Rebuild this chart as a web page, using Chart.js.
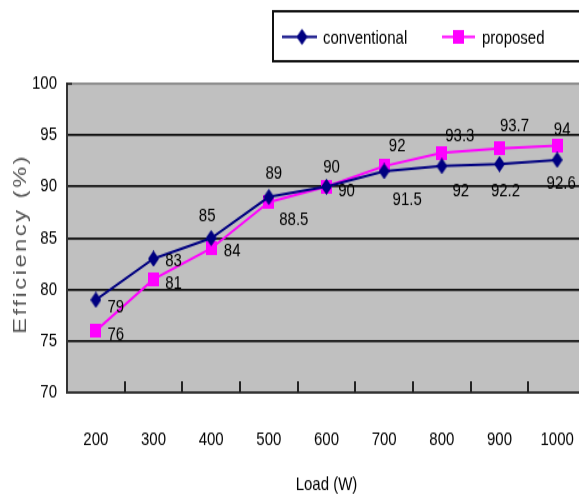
<!DOCTYPE html>
<html>
<head>
<meta charset="utf-8">
<script src="https://cdn.jsdelivr.net/npm/chart.js@4/dist/chart.umd.min.js"></script>
<style>
  html, body { margin: 0; padding: 0; background: #fff; overflow: hidden; }
  #wrap { width: 600px; height: 500px; }
  /* the original picture is stretched vertically, so draw at 400 high and stretch to 500 */
  #myChart { width: 600px !important; height: 500px !important; display: block; }
</style>
</head>
<body>
<div id="wrap"><canvas id="myChart" width="600" height="400"></canvas></div>
<script>
// chart data
const loads = ['200', '300', '400', '500', '600', '700', '800', '900', '1000'];
const conventional = [79, 83, 85, 89, 90, 91.5, 92, 92.2, 92.6];
const proposed = [76, 81, 84, 88.5, 90, 92, 93.3, 93.7, 94];
const yTicks = [70, 75, 80, 85, 90, 95, 100];

// where each value label sits relative to its point (dx, dy)
const convLabelPos = [[20, 6], [20, 2], [-4, -18], [5, -19], [20, 4], [23, 23], [19, 20], [6, 22], [4, 19]];
const propLabelPos = [[20, 3], [20, 3], [21, 2], [25, 14], [5, -15], [13, -16], [18, -13], [15, -18], [5, -13]];

const FONT = '"Liberation Sans", Arial, sans-serif';
const NAVY = '#000080';
const MAGENTA = '#FF00FF';

function makeDiamond() {
  const c = document.createElement('canvas');
  c.width = 11; c.height = 13;
  const g = c.getContext('2d');
  g.fillStyle = NAVY;
  g.beginPath();
  g.moveTo(5.5, 0); g.lineTo(11, 6.5); g.lineTo(5.5, 13); g.lineTo(0, 6.5);
  g.closePath(); g.fill();
  return c;
}
function makeSquare() {
  const c = document.createElement('canvas');
  c.width = 11; c.height = 11;
  const g = c.getContext('2d');
  g.fillStyle = MAGENTA;
  g.fillRect(0, 0, 11, 11);
  return c;
}
const diamond = makeDiamond();
const square = makeSquare();

const plotBackground = {
  id: 'plotBackground',
  beforeDraw(chart) {
    const {ctx, chartArea: a} = chart;
    ctx.save();
    ctx.fillStyle = '#C0C0C0';
    ctx.fillRect(a.left, a.top, a.right - a.left, a.bottom - a.top);
    ctx.restore();
  }
};

// small tick marks pointing up into the plot, between categories
const innerTicks = {
  id: 'innerTicks',
  beforeDatasetsDraw(chart) {
    const {ctx, chartArea: a, scales: {x, y}} = chart;
    ctx.save();
    ctx.strokeStyle = '#222';
    ctx.lineWidth = 2;
    for (let i = 0; i < loads.length - 1; i++) {
      const px = Math.round((x.getPixelForValue(i) + x.getPixelForValue(i + 1)) / 2);
      ctx.beginPath();
      ctx.moveTo(px, a.bottom);
      ctx.lineTo(px, a.bottom - 9);
      ctx.stroke();
    }
    const py = y.getPixelForValue(100);
    ctx.lineWidth = 1.6;
    ctx.beginPath();
    ctx.moveTo(a.left, py);
    ctx.lineTo(a.left + 5, py);
    ctx.stroke();
    ctx.restore();
  }
};

const valueLabels = {
  id: 'valueLabels',
  afterDatasetsDraw(chart) {
    const {ctx} = chart;
    const placement = [convLabelPos, propLabelPos];
    ctx.save();
    ctx.font = '15px ' + FONT;
    ctx.fillStyle = '#000';
    ctx.textAlign = 'center';
    ctx.textBaseline = 'middle';
    chart.data.datasets.forEach((ds, i) => {
      const meta = chart.getDatasetMeta(i);
      meta.data.forEach((pt, j) => {
        const [dx, dy] = placement[i][j];
        ctx.fillText(String(ds.data[j]), pt.x + dx, pt.y + dy);
      });
    });
    ctx.restore();
  }
};

const boxLegend = {
  id: 'boxLegend',
  afterDraw(chart) {
    const {ctx} = chart;
    ctx.save();
    ctx.fillStyle = '#fff';
    ctx.fillRect(273, 9, 400, 40);
    ctx.strokeStyle = '#111';
    ctx.lineWidth = 2;
    ctx.strokeRect(273, 9, 400, 40);
    const rows = [{x1: 282, x2: 317, mx: 302, tx: 323}, {x1: 442, x2: 475, mx: 458, tx: 482}];
    ctx.font = '15px ' + FONT;
    ctx.textBaseline = 'middle';
    chart.data.datasets.forEach((ds, i) => {
      const r = rows[i];
      const cy = 29.5;
      ctx.strokeStyle = ds.borderColor;
      ctx.lineWidth = 2;
      ctx.beginPath();
      ctx.moveTo(r.x1, cy); ctx.lineTo(r.x2, cy);
      ctx.stroke();
      const img = ds.pointStyle;
      ctx.drawImage(img, r.mx - img.width / 2, cy - img.height / 2);
      ctx.fillStyle = '#000';
      ctx.fillText(ds.label, r.tx, cy + 1);
    });
    ctx.restore();
  }
};

const yTitle = {
  id: 'yTitle',
  afterDraw(chart) {
    const {ctx} = chart;
    ctx.save();
    ctx.translate(21, 195);
    ctx.rotate(-Math.PI / 2);
    ctx.font = '19px ' + FONT;
    ctx.letterSpacing = '2px';
    ctx.fillStyle = '#555';
    ctx.textAlign = 'center';
    ctx.textBaseline = 'middle';
    ctx.fillText('Efficiency (%)', 0, 0);
    ctx.restore();
  }
};

const ctx = document.getElementById('myChart').getContext('2d');
new Chart(ctx, {
  type: 'line',
  data: {
    labels: loads,
    datasets: [
      {
        label: 'conventional',
        data: conventional,
        borderColor: NAVY,
        backgroundColor: NAVY,
        borderWidth: 2,
        pointStyle: diamond,
        tension: 0,
        fill: false,
      },
      {
        label: 'proposed',
        data: proposed,
        borderColor: MAGENTA,
        backgroundColor: MAGENTA,
        borderWidth: 2,
        pointStyle: square,
        tension: 0,
        fill: false,
      }
    ]
  },
  options: {
    responsive: false,
    animation: false,
    events: [],
    layout: { padding: { top: 67, right: 14, left: 0, bottom: 0 } },
    plugins: {
      legend: { display: false },
      tooltip: { enabled: false },
    },
    scales: {
      x: {
        type: 'category',
        offset: true,
        grid: { display: false, drawTicks: false },
        border: { color: '#333', width: 2 },
        ticks: { font: { size: 15, family: FONT }, color: '#000', padding: 29, maxRotation: 0 },
        title: { display: true, text: 'Load (W)', font: { size: 15, family: FONT }, color: '#000', padding: { top: 0, bottom: 3 } },
        afterFit(scale) {
          scale.height = 86;
          scale.paddingLeft = 0;
          scale.paddingRight = 0;
        }
      },
      y: {
        min: 70,
        max: 100,
        afterBuildTicks(scale) { scale.ticks = yTicks.map(v => ({value: v})); },
        grid: {
          drawTicks: false,
          lineWidth: 1.8,
          color: c => (c.tick && c.tick.value === 100) ? '#8a8a8a' : '#111',
        },
        border: { color: '#333', width: 2 },
        ticks: { font: { size: 15, family: FONT }, color: '#000', padding: 10 },
        afterFit(scale) { scale.width = 67; }
      }
    }
  },
  plugins: [plotBackground, innerTicks, valueLabels, boxLegend, yTitle]
});
</script>
</body>
</html>
